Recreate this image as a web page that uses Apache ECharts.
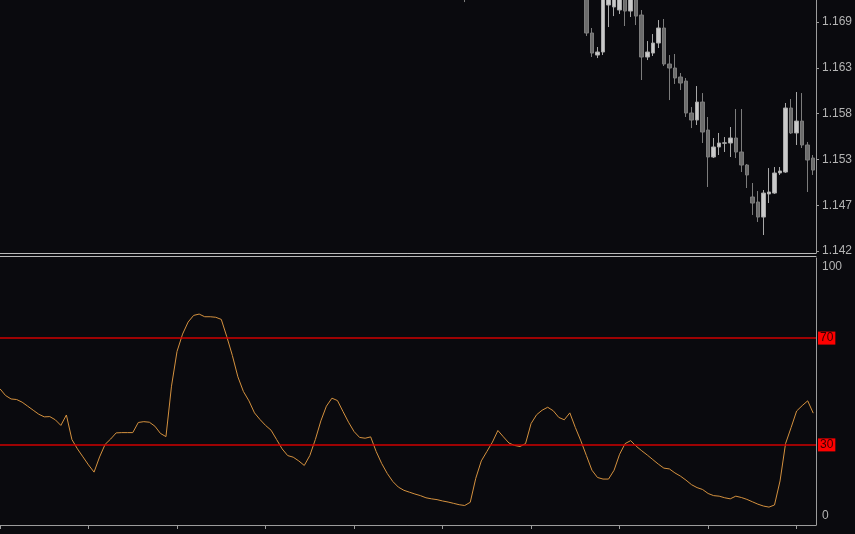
<!DOCTYPE html>
<html>
<head>
<meta charset="utf-8">
<script src="https://cdn.jsdelivr.net/npm/echarts@6/dist/echarts.min.js"></script>
<style>
html,body{margin:0;padding:0;background:#0a0a0e;}
#c{width:855px;height:534px;}
</style>
</head>
<body>
<div id="c"></div>
<script>
// ---------- data ----------
const barCount = 148;

// oscillator value for each bar (0..147)
const rsiValues = [
  51,48.5,47.2,47,46,44.5,43,41.5,40.5,40.6,
  39.4,37.3,41.2,32,28.5,25.5,22.5,19.8,25.5,30.2,
  32.2,34.5,34.6,34.6,34.6,38.4,38.7,38.5,37,34.3,
  33.1,52,65,71.5,76,78.5,79,78,78,77.8,
  77,70.5,63.5,55.5,50,46.5,42,39.5,37.3,35.5,
  32,28.5,26,25.4,24,22.3,26,32,39,44.5,
  47.5,46.6,42.5,38.5,35,32.8,32.5,33,27.5,23,
  19.3,16.3,14.2,13,12.3,11.6,11,10.2,9.8,9.5,
  9,8.6,8.1,7.6,7.3,8.5,17.5,24,27.5,31,
  35.4,33,30.7,29.8,29.4,30.5,38,41.3,43,44.1,
  42.8,40.3,39.4,42,36.5,31.5,26,20.5,17.8,17.2,
  17.2,20.5,26.5,30.5,31.6,29.5,27.8,26.2,24.5,22.8,
  21.3,21,19.5,18.3,16.8,15.1,14,13.3,11.8,11,
  10.8,10.2,9.8,10.8,10.3,9.6,8.7,7.8,7.1,6.7,
  7.5,16.5,30.5,36.5,42.7,44.7,46.5,41.9
];

// candles that reach into the visible price window (others lie above it)
const candleIndex = [84,106,107,108,109,110,111,112,113,114,115,116,117,118,119,120,121,122,123,124,125,126,127,128,129,130,131,132,133,134,135,136,137,138,139,140,141,142,143,144,145,146,147];
const candleOpen  = [1.17262,1.17248,1.16773,1.16518,1.16553,1.17097,1.17074,1.17039,1.17224,1.17027,1.17189,1.16981,1.16495,1.16541,1.16657,1.16831,1.16414,1.16368,1.16264,1.16217,1.15847,1.15766,1.15974,1.15650,1.15338,1.15454,1.15497,1.15500,1.15558,1.15396,1.15245,1.14875,1.14817,1.14643,1.14910,1.14921,1.15153,1.15164,1.15905,1.15616,1.15754,1.15477,1.15326];
const candleClose = [1.17224,1.16773,1.16541,1.16553,1.17212,1.17270,1.17224,1.17248,1.17027,1.17201,1.16969,1.16495,1.16553,1.16657,1.16831,1.16414,1.16368,1.16252,1.16194,1.15847,1.15766,1.15974,1.15627,1.15338,1.15454,1.15500,1.15502,1.15558,1.15396,1.15245,1.15130,1.14805,1.14643,1.14921,1.14933,1.15153,1.15176,1.15905,1.15616,1.15754,1.15477,1.15303,1.15187];
const candleLow   = [1.17131,1.16738,1.16495,1.16483,1.16518,1.16842,1.16969,1.16993,1.16854,1.16958,1.16865,1.16229,1.16460,1.16507,1.16599,1.16391,1.15997,1.16183,1.16113,1.15801,1.15673,1.15708,1.15500,1.14991,1.15326,1.15361,1.15396,1.15338,1.15326,1.15164,1.14979,1.14667,1.14586,1.14435,1.14805,1.14910,1.15130,1.15153,1.15604,1.15477,1.15442,1.14933,1.15130];
const candleHigh  = [1.17305,1.17329,1.16831,1.16611,1.17248,1.17363,1.17294,1.17317,1.17294,1.17270,1.17259,1.17039,1.16680,1.16761,1.16923,1.16935,1.16518,1.16530,1.16310,1.16252,1.15916,1.16159,1.16078,1.15801,1.15558,1.15616,1.15569,1.15685,1.15893,1.15893,1.15257,1.15037,1.14944,1.14956,1.15210,1.15222,1.15222,1.15963,1.16009,1.16090,1.16078,1.15512,1.15361];

const priceTicks = [1.1425, 1.1478, 1.1531, 1.1584, 1.1637, 1.1690];
const priceTickLabels = ['1.142', '1.147', '1.153', '1.158', '1.163', '1.169'];
const rsiLevels = [70, 30];
const rsiTopLabel = [100];
const rsiBottomLabel = [0];
const timeTicks = [0, 16, 32, 48, 64, 80, 96, 112, 128, 144];

// ---------- chart ----------
const font = 'Liberation Sans';
const axisGray = '#9c9c9c';
const sepGray = '#b8b8b8';
const textGray = '#b4b4b4';

const chart = echarts.init(document.getElementById('c'), null, {renderer: 'canvas'});

const hiddenAxisParts = {
  axisTick: {show: false},
  axisLabel: {show: false},
  splitLine: {show: false}
};

chart.setOption({
  backgroundColor: '#0a0a0e',
  animation: false,
  grid: [
    {left: 0, right: 39, top: 0, height: 253, outerBoundsMode: 'none'},
    {left: 0, right: 39, top: 258, height: 267, outerBoundsMode: 'none'}
  ],
  xAxis: [
    Object.assign({gridIndex: 0, type: 'value', min: 0, max: barCount - 0.5,
      axisLine: {show: true, onZero: false, lineStyle: {color: sepGray, width: 1}}}, hiddenAxisParts),
    {gridIndex: 1, type: 'value', min: 0, max: barCount - 0.5,
      axisLine: {show: true, onZero: false, lineStyle: {color: axisGray, width: 1}},
      axisTick: {show: true, length: 4, customValues: timeTicks, lineStyle: {color: axisGray}},
      axisLabel: {show: false},
      splitLine: {show: false}},
    Object.assign({gridIndex: 1, type: 'value', position: 'top', offset: 2, min: 0, max: barCount - 0.5,
      axisLine: {show: true, onZero: false, lineStyle: {color: sepGray, width: 1}}}, hiddenAxisParts)
  ],
  yAxis: [
    {gridIndex: 0, type: 'value', position: 'right', min: 1.14227, max: 1.17155,
      axisLine: {show: true, onZero: false, lineStyle: {color: axisGray}},
      axisTick: {show: true, length: 3, customValues: priceTicks, lineStyle: {color: axisGray}},
      axisLabel: {
        show: true, customValues: priceTicks, margin: 6, color: textGray,
        fontFamily: font, fontSize: 12,
        formatter: function (v) {
          let best = 0;
          for (let i = 1; i < priceTicks.length; i++) {
            if (Math.abs(priceTicks[i] - v) < Math.abs(priceTicks[best] - v)) best = i;
          }
          return priceTickLabels[best];
        }
      },
      splitLine: {show: false}},
    {gridIndex: 1, type: 'value', position: 'right', min: 0, max: 100,
      axisLine: {show: true, onZero: false, lineStyle: {color: axisGray}},
      axisTick: {show: false},
      axisLabel: {show: true, customValues: rsiTopLabel, verticalAlign: 'top', padding: [3, 0, 0, 0],
        margin: 6, color: textGray, fontFamily: font, fontSize: 12},
      splitLine: {show: false}},
    {gridIndex: 1, type: 'value', position: 'right', min: 0, max: 100,
      axisLine: {show: false},
      axisTick: {show: false},
      axisLabel: {show: true, customValues: rsiBottomLabel, verticalAlign: 'bottom', padding: [0, 0, 3, 0],
        margin: 6, color: textGray, fontFamily: font, fontSize: 12},
      splitLine: {show: false}}
  ],
  series: [
    {
      type: 'candlestick',
      xAxisIndex: 0, yAxisIndex: 0,
      barWidth: 4,
      clip: true,
      encode: {x: 0, y: [1, 2, 3, 4]},
      data: candleIndex.map((b, i) => [b, candleOpen[i], candleClose[i], candleLow[i], candleHigh[i]]),
      itemStyle: {
        color: '#cacaca', borderColor: '#a8a8a8',
        color0: '#6c6c6c', borderColor0: '#7c7c7c',
        borderWidth: 1
      }
    },
    {
      type: 'line',
      xAxisIndex: 1, yAxisIndex: 1,
      data: rsiValues.map((v, i) => [i, v]),
      showSymbol: false,
      symbol: 'none',
      clip: true,
      lineStyle: {color: '#d4913f', width: 1},
      z: 3,
      markLine: {
        silent: true,
        symbol: ['none', 'none'],
        animation: false,
        lineStyle: {color: '#d00000', width: 1.5, type: 'solid'},
        label: {
          show: true, position: 'end', distance: 2, formatter: '{c}',
          color: '#3a0000', backgroundColor: '#ff0000', padding: [1, 2, 0, 2],
          fontFamily: font, fontSize: 12
        },
        data: rsiLevels.map(v => ({yAxis: v}))
      }
    }
  ]
});
</script>
</body>
</html>
